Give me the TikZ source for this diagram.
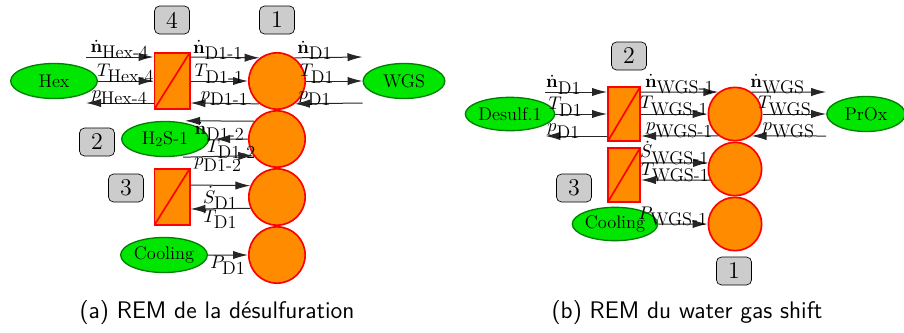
\documentclass[tikz,border=0pt]{standalone}
\usepackage{amsmath}
\usetikzlibrary{positioning,calc,shapes.geometric,arrows.meta}
\definecolor{srcfill}{RGB}{0,230,0}
\definecolor{srcdraw}{RGB}{0,128,0}
\definecolor{blkorange}{RGB}{255,140,0}
\definecolor{taggray}{RGB}{204,204,204}
\tikzset{
  src/.style={ellipse,draw=srcdraw,fill=srcfill,line width=0.8pt,inner sep=0pt,
    minimum width=52pt,minimum height=21pt,font=\fontsize{11}{13}\selectfont},
  accu/.style={circle,draw=red,fill=blkorange,line width=1pt,inner sep=0pt,minimum size=33.8pt},
  accuw/.style={accu,minimum size=32pt},
  conv/.style={rectangle,draw=red,fill=blkorange,line width=1pt,inner sep=0pt,
    minimum width=21.2pt,minimum height=33.8pt,
    path picture={\draw[red,line width=1pt] (path picture bounding box.south west)
      -- (path picture bounding box.north east);}},
  convw/.style={conv,minimum width=19.4pt,minimum height=32.6pt},
  tag/.style={rectangle,rounded corners=3pt,draw,fill=taggray,inner sep=0pt,
    minimum width=21pt,minimum height=16.8pt,font=\Large},
  flow/.style={-{Latex[length=9pt,width=5pt]},line width=0.6pt,black!85},
  lab/.style={inner sep=0.3pt,black,font=\fontsize{11}{13}\selectfont},
  labup/.style={lab,above=-1.8pt},
  labdn/.style={lab,below=0pt}
}
\begin{document}
\begin{tikzpicture}[x=0.6pt,y=-0.6pt]
\useasboundingbox (0,0) rectangle (904,332);

% (a) desulfuration
\node[accu] (d1) at (277,81) {};
\node[accu] (d2) [below=0pt of d1] {};
\node[accu] (d3) [below=0pt of d2] {};
\node[accu] (d4) [below=0pt of d3] {};
\node[conv] (cv4) at (172,81) {};
\node[conv] (cv3) at (172,197) {};
\node[src] (hex) at (54,81) {Hex};
\node[src,minimum width=49pt] (wgs) at (404,81) {WGS};
\node[src] (hs) at (165,139) {H$_2$S-1};
\node[src] (cool) at (164,255) {Cooling};
\node[tag] (t4) at (172,20) {4};
\node[tag] (t1) at (277,20) {1};
\node[tag] (t2) at (97,142) {2};
\node[tag] (t3) at (126,188) {3};

\draw[flow] ($(hex.east)+(-12,-24)$) -- ($(cv4.west)+(0,-24)$) node[labup,midway] {$\dot{\mathbf{n}}_{\mbox{Hex-4}}$};
\draw[flow] (hex.east) -- (cv4.west) node[labup,midway] {$T_{\mbox{Hex-4}}$};
\draw[flow] ($(cv4.west)+(0,22)$) -- ($(hex.east)+(-12,22)$) node[labup,midway] {$p_{\mbox{Hex-4}}$};

\draw[flow] ($(cv4.east)+(0,-24)$) -- (d1.127) node[labup,pos=0.4] {$\dot{\mathbf{n}}_{\mbox{D1-1}}$};
\draw[flow] (cv4.east) -- (d1.west) node[labup,midway] {$T_{\mbox{D1-1}}$};
\draw[flow] (d1.232) -- ($(cv4.east)+(0,22)$) node[labup,midway] {$p_{\mbox{D1-1}}$};

\draw[flow] (d1.53) -- ($(wgs.west)+(0,-24)$) node[labup,pos=0.3] {$\dot{\mathbf{n}}_{\mbox{D1}}$};
\draw[flow] (d1.east) -- (wgs.west) node[labup,pos=0.2] {$T_{\mbox{D1}}$};
\draw[flow] ($(wgs.west)+(0,22)$) -- (d1.-52) node[labup,pos=0.7] {$p_{\mbox{D1}}$};

\draw[flow] (d2.142) -- ($(hs.north)+(20,0)$) node[labdn,midway] {$\dot{\mathbf{n}}_{\mbox{D1-2}}$};
\draw[flow] (d2.west) -- ($(hs.east)+(6,0)$) node[labdn,midway] {$T_{\mbox{D1-2}}$};
\draw[flow] ($(hs.south)+(18,0)$) -- (d2.215) node[labdn,midway] {$p_{\mbox{D1-2}}$};

\draw[flow] ($(cv3.east)+(0,-12)$) -- (d3.157) node[labdn,midway] {$\dot{S}_{\mbox{D1}}$};
\draw[flow] (d3.203) -- ($(cv3.east)+(0,12)$) node[labdn,midway] {$T_{\mbox{D1}}$};
\draw[flow] (cool.east) -- (d4.west) node[labdn,midway] {$P_{\mbox{D1}}$};

% (b) water gas shift
\node[accuw] (w1) at (735,114) {};
\node[accuw] (w2) [below=0pt of w1] {};
\node[accuw] (w3) [below=0pt of w2] {};
\node[convw] (cvw2) at (624,114) {};
\node[convw] (cvw3) [below=3pt of cvw2] {};
\node[src,minimum width=50pt,minimum height=20pt] (des) at (510,114) {Desulf.1};
\node[src,minimum width=47pt] (prox) at (866,114) {PrOx};
\node[src,minimum width=50pt,minimum height=20pt] (coolw) at (615,224) {Cooling};
\node[tag] (tw2) at (629,56) {2};
\node[tag] (tw3) at (574,188) {3};
\node[tag] (tw1) at (734,271) {1};

\draw[flow] ($(des.east)+(-10,-22)$) -- ($(cvw2.west)+(0,-22)$) node[labup,pos=0.3] {$\dot{\mathbf{n}}_{\mbox{D1}}$};
\draw[flow] (des.east) -- (cvw2.west) node[labup,pos=0.2] {$T_{\mbox{D1}}$};
\draw[flow] ($(cvw2.west)+(0,22)$) -- ($(des.east)+(-10,22)$) node[labup,pos=0.7] {$p_{\mbox{D1}}$};

\draw[flow] ($(cvw2.east)+(0,-22)$) -- (w1.127) node[labup,midway] {$\dot{\mathbf{n}}_{\mbox{WGS-1}}$};
\draw[flow] (cvw2.east) -- (w1.west) node[labup,midway] {$T_{\mbox{WGS-1}}$};
\draw[flow] (w1.233) -- ($(cvw2.east)+(0,22)$) node[labup,midway] {$p_{\mbox{WGS-1}}$};

\draw[flow] (w1.53) -- ($(prox.west)+(0,-22)$) node[labup,pos=0.35] {$\dot{\mathbf{n}}_{\mbox{WGS}}$};
\draw[flow] (w1.east) -- (prox.west) node[labup,pos=0.35] {$T_{\mbox{WGS}}$};
\draw[flow] ($(prox.west)+(0,22)$) -- (w1.-53) node[labup,midway] {$p_{\mbox{WGS}}$};

\draw[flow] ($(cvw3.east)+(0,-12)$) -- (w2.167) node[labup,midway] {$\dot{S}_{\mbox{WGS-1}}$};
\draw[flow] (w2.204) -- ($(cvw3.east)+(0,5)$) node[labup,midway] {$T_{\mbox{WGS-1}}$};
\draw[flow] (coolw.east) -- (w3.west) node[labup,pos=0.3] {$P_{\mbox{WGS-1}}$};

\node[font=\sffamily\Large] (capa) at (217,313) {(a) REM de la désulfuration};
\node[font=\sffamily\Large] (capb) at (687,313) {(b) REM du water gas shift};
\end{tikzpicture}
\end{document}
